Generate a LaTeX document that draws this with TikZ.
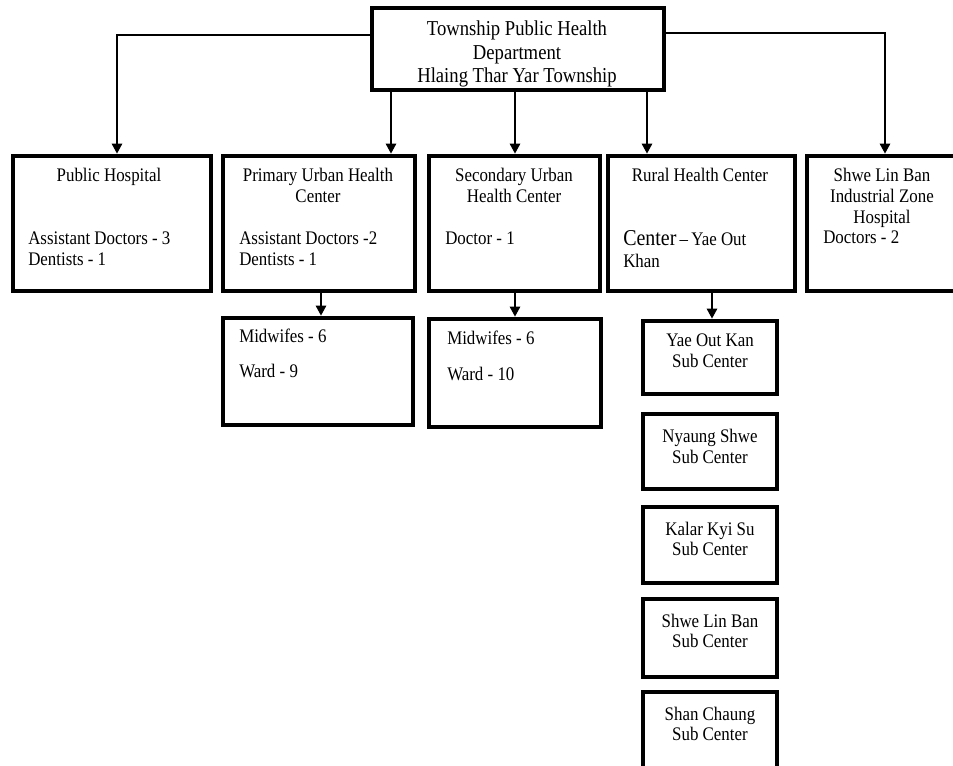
\documentclass[tikz,border=0pt]{standalone}
\usepackage{fontspec}
\setmainfont{Liberation Serif}[FakeStretch=0.88]
\usetikzlibrary{arrows.meta,fit}
\begin{document}
\begin{tikzpicture}[x=0.75pt,y=-0.75pt,
  box/.style={draw, line width=3.4pt, inner sep=0pt},
  conn/.style={line width=1.8pt},
  arr/.style={conn, -{Triangle[length=7.5pt,width=7.5pt]}},
  txt/.style={inner sep=0pt, font=\fontsize{14.4pt}{17pt}\selectfont},
  head/.style={inner sep=0pt, font=\fontsize{15.9pt}{19pt}\selectfont}]
\useasboundingbox (0,0) rectangle (953,766);
\clip (0,0) rectangle (953,766);

% ---- boxes ----
\node[box, fit={(372,8) (664,90)}] (top) {};
\node[box, fit={(13,156) (211,291)}] (ph) {};
\node[box, fit={(223,156) (415,291)}] (puhc) {};
\node[box, fit={(429,156) (600,291)}] (suhc) {};
\node[box, fit={(608,156) (795,291)}] (rhc) {};
\node[box, fit={(807,156) (975,291)}] (slb) {};
\node[box, fit={(223,318) (413,425)}] (m1) {};
\node[box, fit={(429,319) (601,427)}] (m2) {};
\node[box, fit={(643,321) (777,394)}] (s1) {};
\node[box, fit={(643,414) (777,489)}] (s2) {};
\node[box, fit={(643,507) (777,583)}] (s3) {};
\node[box, fit={(643,599) (777,677)}] (s4) {};
\node[box, fit={(643,692) (777,790)}] (s5) {};

% ---- connectors ----
\coordinate (jl) at (117,35);
\coordinate (jr) at (885,33);
\coordinate (c2) at (391,0);
\coordinate (c3) at (515,0);
\coordinate (c4) at (647,0);
\coordinate (d2) at (321,0);
\coordinate (d3) at (515,0);
\coordinate (d4) at (712,0);
\draw[arr] (top.west |- jl) -| (ph.north -| jl);
\draw[arr] (top.east |- jr) -| (slb.north -| jr);
\draw[arr] (top.south -| c2) -- (puhc.north -| c2);
\draw[arr] (top.south -| c3) -- (suhc.north -| c3);
\draw[arr] (top.south -| c4) -- (rhc.north -| c4);
\draw[arr] (puhc.south -| d2) -- (m1.north -| d2);
\draw[arr] (suhc.south -| d3) -- (m2.north -| d3);
\draw[arr] (rhc.south -| d4) -- (s1.north -| d4);

% ---- texts ----
\node[head, anchor=base] (top-1) at (517,36) {Township Public Health};
\node[head, anchor=base] (top-2) at (517,59.5) {Department};
\node[head, anchor=base] (top-3) at (517,83) {Hlaing Thar Yar Township};

\node[txt, anchor=base] (ph-1) at (109,182) {Public Hospital};
\node[txt, anchor=base west] (ph-2) at (28,245) {Assistant Doctors - 3};
\node[txt, anchor=base west] (ph-3) at (28,266) {Dentists - 1};

\node[txt, anchor=base] (puhc-1) at (318,182) {Primary Urban Health};
\node[txt, anchor=base] (puhc-2) at (318,203) {Center};
\node[txt, anchor=base west] (puhc-3) at (239,245) {Assistant Doctors -2};
\node[txt, anchor=base west] (puhc-4) at (239,266) {Dentists - 1};

\node[txt, anchor=base] (suhc-1) at (514,182) {Secondary Urban};
\node[txt, anchor=base] (suhc-2) at (514,203) {Health Center};
\node[txt, anchor=base west] (suhc-3) at (445,245) {Doctor - 1};

\node[txt, anchor=base] (rhc-1) at (700,182) {Rural Health Center};
\node[txt, anchor=base west] (rhc-2) at (623,246) {{\fontsize{17pt}{20pt}\selectfont Center}\,–\,Yae Out};
\node[txt, anchor=base west] (rhc-3) at (623,268) {Khan};

\node[txt, anchor=base] (slb-1) at (882,182) {Shwe Lin Ban};
\node[txt, anchor=base] (slb-2) at (882,203) {Industrial Zone};
\node[txt, anchor=base] (slb-3) at (882,224) {Hospital};
\node[txt, anchor=base west] (slb-4) at (823,244) {Doctors - 2};

\node[txt, anchor=base west] (m1-1) at (239,343) {Midwifes - 6};
\node[txt, anchor=base west] (m1-2) at (239,378) {Ward - 9};
\node[txt, anchor=base west] (m2-1) at (447,345) {Midwifes - 6};
\node[txt, anchor=base west] (m2-2) at (447,381) {Ward - 10};

\node[txt, anchor=base] (s1-1) at (710,347) {Yae Out Kan};
\node[txt, anchor=base] (s1-2) at (710,368) {Sub Center};
\node[txt, anchor=base] (s2-1) at (710,442) {Nyaung Shwe};
\node[txt, anchor=base] (s2-2) at (710,463) {Sub Center};
\node[txt, anchor=base] (s3-1) at (710,535) {Kalar Kyi Su};
\node[txt, anchor=base] (s3-2) at (710,555) {Sub Center};
\node[txt, anchor=base] (s4-1) at (710,627) {Shwe Lin Ban};
\node[txt, anchor=base] (s4-2) at (710,647) {Sub Center};
\node[txt, anchor=base] (s5-1) at (710,720) {Shan Chaung};
\node[txt, anchor=base] (s5-2) at (710,740) {Sub Center};
\end{tikzpicture}
\end{document}
